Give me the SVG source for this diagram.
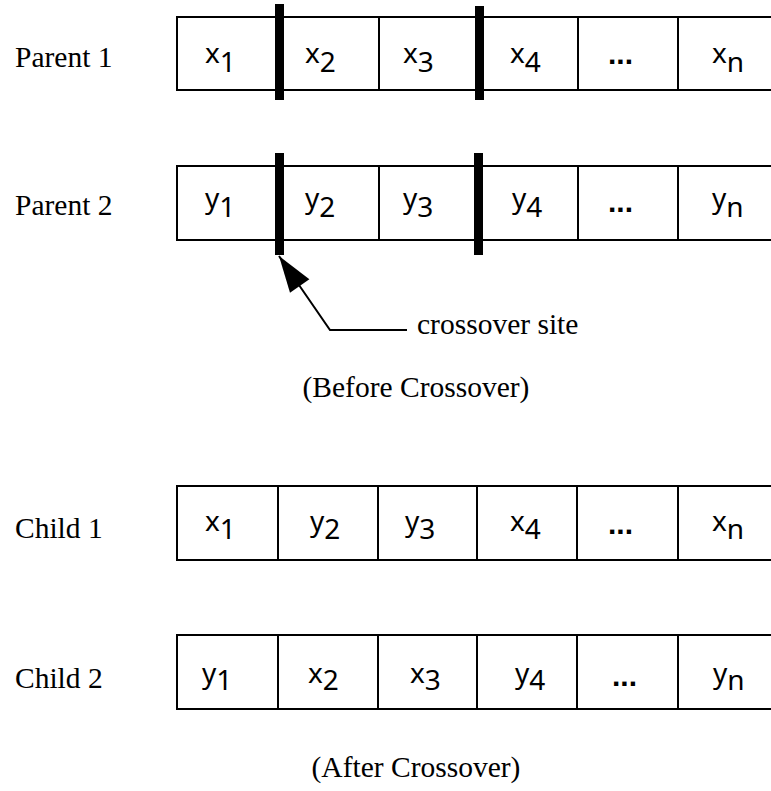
<svg xmlns="http://www.w3.org/2000/svg" width="771" height="791" viewBox="0 0 771 791">
<defs>
<style>
.lbl{font-family:"Liberation Serif","Times New Roman",serif;font-size:29.5px;fill:#000}
.cell{font-family:"Noto Sans","Open Sans",sans-serif;font-size:28px;fill:#000}
.dots{font-family:"Liberation Sans",Arial,sans-serif;font-size:30px;font-weight:bold;fill:#000}
.box{fill:none;stroke:#000;stroke-width:2}
.bar{fill:#000}
.conn{fill:none;stroke:#000;stroke-width:2}
</style>
<marker id="ah" markerUnits="userSpaceOnUse" markerWidth="40" markerHeight="30" viewBox="-32 -12 34 24" refX="0" refY="0" orient="auto">
<path d="M0,0 L-31,-10 L-31,10 Z" fill="#000"/>
</marker>
</defs>
<rect width="771" height="791" fill="#fff"/>

<g id="parent1">
<text class="lbl" x="15" y="67">Parent 1</text>
<path class="box" d="M771,17 H177 V90 H771 M379,17 V90 M578,17 V90 M678,17 V90"/>
<rect class="bar" x="275" y="4" width="9" height="96"/>
<rect class="bar" x="475" y="6" width="9" height="94"/>
<text class="cell" x="205" y="63">x<tspan dy="9">1</tspan></text>
<text class="cell" x="305" y="63">x<tspan dy="9">2</tspan></text>
<text class="cell" x="403" y="63">x<tspan dy="9">3</tspan></text>
<text class="cell" x="510" y="63">x<tspan dy="9">4</tspan></text>
<text class="dots" x="608" y="64">...</text>
<text class="cell" x="712" y="63">x<tspan dy="9">n</tspan></text>
</g>

<g id="parent2">
<text class="lbl" x="15" y="215">Parent 2</text>
<path class="box" d="M771,166 H177 V240 H771 M379,166 V240 M578,166 V240 M678,166 V240"/>
<rect class="bar" x="275" y="153" width="9" height="102"/>
<rect class="bar" x="474" y="153" width="9" height="102"/>
<text class="cell" x="205" y="208">y<tspan dy="9">1</tspan></text>
<text class="cell" x="305" y="208">y<tspan dy="9">2</tspan></text>
<text class="cell" x="403" y="208">y<tspan dy="9">3</tspan></text>
<text class="cell" x="512" y="208">y<tspan dy="9">4</tspan></text>
<text class="dots" x="608" y="212">...</text>
<text class="cell" x="712" y="208">y<tspan dy="9">n</tspan></text>
</g>

<g id="connectors">
<path class="conn" d="M407,330 H330 L279,256" marker-end="url(#ah)"/>
</g>

<g id="crossover-site">
<text class="lbl" x="417" y="334">crossover site</text>
</g>

<g id="before-caption">
<text class="lbl" x="416" y="397" text-anchor="middle">(Before Crossover)</text>
</g>

<g id="child1">
<text class="lbl" x="15" y="538">Child 1</text>
<path class="box" d="M771,486 H177 V560 H771 M278,486 V560 M378,486 V560 M477,486 V560 M577,486 V560 M678,486 V560"/>
<text class="cell" x="205" y="531">x<tspan dy="8">1</tspan></text>
<text class="cell" x="310" y="531">y<tspan dy="8">2</tspan></text>
<text class="cell" x="405" y="531">y<tspan dy="8">3</tspan></text>
<text class="cell" x="510" y="531">x<tspan dy="8">4</tspan></text>
<text class="dots" x="608" y="534">...</text>
<text class="cell" x="712" y="531">x<tspan dy="8">n</tspan></text>
</g>

<g id="child2">
<text class="lbl" x="15" y="688">Child 2</text>
<path class="box" d="M771,635 H177 V709 H771 M278,635 V709 M378,635 V709 M477,635 V709 M577,635 V709 M678,635 V709"/>
<text class="cell" x="202" y="683">y<tspan dy="7">1</tspan></text>
<text class="cell" x="308" y="683">x<tspan dy="7">2</tspan></text>
<text class="cell" x="410" y="683">x<tspan dy="7">3</tspan></text>
<text class="cell" x="515" y="683">y<tspan dy="7">4</tspan></text>
<text class="dots" x="612" y="686">...</text>
<text class="cell" x="713" y="683">y<tspan dy="7">n</tspan></text>
</g>

<g id="after-caption">
<text class="lbl" x="416" y="777" text-anchor="middle">(After Crossover)</text>
</g>
</svg>
